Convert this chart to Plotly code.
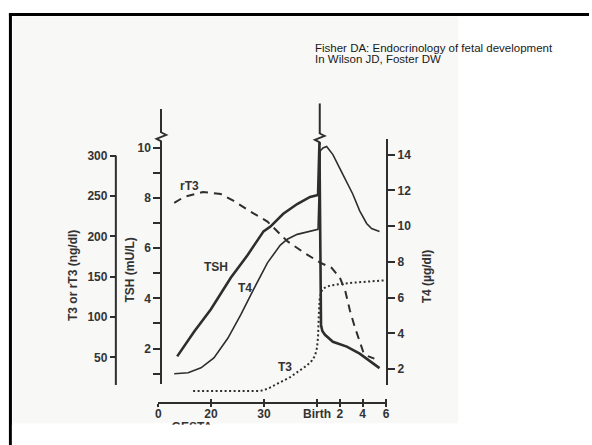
import plotly.graph_objects as go

W, H = 592, 445

# ---------------- data (x in axis units: gestational weeks; postnatal part compressed) ----
x_tick_vals = [10.1, 20, 30, 40, 44.3, 48.6, 53.0]
x_tick_text = ["0", "20", "30", "Birth", "2", "4", "6"]

tsh_x = [13.64, 16.82, 20.0, 23.74, 26.92, 29.91, 31.21, 33.64, 36.26, 38.69, 40.19,
         40.45, 40.75, 41.0, 41.5, 42.99, 45.61, 48.04, 51.78]
tsh_y = [1.69, 2.67, 3.57, 4.82, 5.73, 6.67, 6.86, 7.37, 7.76, 8.04, 8.12,
         10.2, 2.94, 2.7, 2.55, 2.27, 2.08, 1.80, 1.22]

t4_x = [13.08, 15.70, 18.13, 20.56, 23.18, 25.61, 28.04, 30.65, 33.08, 34.39, 36.26, 38.69, 40.19,
        40.6, 41.12, 41.81, 42.99, 44.86, 46.73, 48.04, 49.35, 50.28, 51.78]
t4_y = [1.75, 1.80, 2.08, 2.63, 3.73, 5.04, 6.47, 7.95, 8.94, 9.27, 9.54, 9.71, 9.82,
        14.2, 14.37, 14.46, 14.0, 12.9, 11.8, 10.86, 10.15, 9.87, 9.70]

rt3_x = [13.08, 14.95, 18.50, 21.87, 24.30, 27.48, 30.65, 34.39, 37.38, 40.56, 42.75,
         44.30, 45.3, 46.2, 47.1, 48.0, 48.7, 49.6, 50.8]
rt3_y = [241.5, 248.8, 254.9, 252.4, 243.9, 230.5, 218.3, 194.0, 180.5, 167.5, 160.9,
         148.8, 133.0, 108.0, 88.0, 69.0, 57.0, 51.5, 48.5]

t3_x = [16.64, 29.35, 30.65, 31.78, 33.64, 34.95, 36.82, 38.13, 39.07, 39.63, 40.0, 40.19,
        40.32, 40.47, 40.75, 41.12, 42.43, 44.30, 47.10, 49.91, 53.08]
t3_y = [8.5, 8.5, 11.0, 14.6, 20.7, 25.6, 34.2, 40.2, 46.3, 52.4, 62.2, 75.6,
        100.0, 120.7, 130.5, 135.4, 139.0, 140.9, 142.7, 143.9, 145.7]

tsh_ticks = [2, 4, 6, 8, 10]
tsh_minor = [1, 3, 5, 7, 9]
t3_ticks = [50, 100, 150, 200, 250, 300]
t4_ticks = [2, 4, 6, 8, 10, 12, 14]

# ---------------- helpers (layout positions in pixels) ----------------
def PX(x):
    return x / W

def PY(y):
    return 1 - y / H

INK = "#2e2e2e"
BG = "#f8f8f6"
FONT = "Liberation Sans, Arial, sans-serif"
tickfont = dict(family=FONT, size=12, color="#333333", weight="bold")

fig = go.Figure()
fig.add_trace(go.Scatter(x=rt3_x, y=rt3_y, xaxis="x", yaxis="y2", mode="lines",
                         line=dict(color=INK, width=2, dash="8px,6px"), name="rT3"))
fig.add_trace(go.Scatter(x=t3_x, y=t3_y, xaxis="x", yaxis="y2", mode="lines",
                         line=dict(color=INK, width=2, dash="2px,2.5px"), name="T3"))
fig.add_trace(go.Scatter(x=t4_x, y=t4_y, xaxis="x", yaxis="y3", mode="lines",
                         line=dict(color=INK, width=1.6), name="T4"))
fig.add_trace(go.Scatter(x=tsh_x, y=tsh_y, xaxis="x", yaxis="y", mode="lines",
                         line=dict(color=INK, width=2.6), name="TSH"))
# empty traces so that the overlay axes are drawn
fig.add_trace(go.Scatter(x=[], y=[], xaxis="x2", yaxis="y", showlegend=False))
fig.add_trace(go.Scatter(x=[], y=[], xaxis="x3", yaxis="y", showlegend=False))

xr = [10.1, 53.2]
common_ax = dict(showgrid=False, zeroline=False, tickcolor=INK, tickwidth=1.6, linecolor=INK)

fig.update_layout(
    width=W, height=H, margin=dict(l=0, r=0, t=0, b=0),
    paper_bgcolor="white", plot_bgcolor="rgba(0,0,0,0)", showlegend=False,
    xaxis=dict(domain=[PX(157), PX(388)], range=xr, anchor="free", position=PY(402),
               showline=True, linewidth=2, ticks="inside", ticklen=3,
               tickvals=x_tick_vals, ticktext=x_tick_text, tickfont=tickfont, **common_ax),
    xaxis2=dict(overlaying="x", range=xr, anchor="free", position=PY(402), showline=False,
                ticks="outside", ticklen=3, tickvals=x_tick_vals, showticklabels=False, **common_ax),
    xaxis3=dict(overlaying="x", range=xr, anchor="free", position=PY(418), showline=False,
                ticks="", tickvals=[16.4], ticktext=["GESTA"], tickfont=tickfont,
                showgrid=False, zeroline=False),
    yaxis=dict(domain=[PY(383), PY(104)], range=[0.59, 11.53], anchor="free", position=PX(160),
               showline=True, linewidth=2, ticks="outside", ticklen=7,
               tickvals=tsh_ticks, tickfont=tickfont,
               minor=dict(tickvals=tsh_minor, ticks="outside", ticklen=7, tickcolor=INK, tickwidth=1.6),
               **common_ax),
    yaxis2=dict(domain=[PY(393), PY(151)], range=[4.9, 300], anchor="free", position=PX(114),
                showline=False, ticks="outside", ticklen=6, tickvals=t3_ticks, tickfont=tickfont,
                **common_ax),
    yaxis3=dict(domain=[PY(384), PY(134)], range=[1.12, 14.88], anchor="free", position=PX(388),
                side="right", showline=True, linewidth=2, ticks="outside", ticklen=7,
                tickvals=t4_ticks, tickfont=tickfont, **common_ax),
)

shapes = []
# scanned page background and slide border
shapes.append(dict(type="rect", xref="paper", yref="paper", x0=PX(10), x1=PX(460), y0=PY(423), y1=PY(10),
                   fillcolor=BG, line=dict(width=0), layer="below"))
shapes.append(dict(type="line", xref="paper", yref="paper", x0=PX(6), x1=PX(592), y0=PY(7.5), y1=PY(7.5),
                   line=dict(color="black", width=3)))
shapes.append(dict(type="line", xref="paper", yref="paper", x0=PX(7.5), x1=PX(7.5), y0=PY(6), y1=PY(445),
                   line=dict(color="black", width=3)))
# T3 / rT3 axis line
shapes.append(dict(type="line", xref="paper", yref="paper", x0=PX(114), x1=PX(114), y0=PY(151), y1=PY(384),
                   line=dict(color=INK, width=2)))
# birth line above the surge
shapes.append(dict(type="line", xref="paper", yref="paper", x0=PX(320), x1=PX(320), y0=PY(98), y1=PY(140),
                   line=dict(color=INK, width=2)))

def zigzag(xc, yc):
    out = [dict(type="line", xref="paper", yref="paper", x0=PX(xc), x1=PX(xc), y0=PY(yc - 4), y1=PY(yc + 4),
                line=dict(color=BG, width=4))]
    pts = [(xc, yc - 4.5), (xc + 5, yc - 2), (xc - 5, yc + 2), (xc, yc + 4.5)]
    path = "M " + " L ".join(f"{PX(a):.5f},{PY(b):.5f}" for a, b in pts)
    out.append(dict(type="path", xref="paper", yref="paper", path=path, line=dict(color=INK, width=1.8)))
    return out

shapes += zigzag(160, 132)
shapes += zigzag(320, 133)
# lower edge of the scanned page
shapes.append(dict(type="rect", xref="paper", yref="paper", x0=PX(9), x1=PX(592), y0=PY(445), y1=PY(424.5),
                   fillcolor="white", line=dict(width=0), layer="above"))
fig.update_layout(shapes=shapes)

ann_font = dict(family=FONT, size=12, color="#333333", weight="bold")
anns = [
    dict(text="T3 or rT3 (ng/dl)", x=PX(70), y=PY(273), textangle=-90),
    dict(text="TSH (mU/L)", x=PX(128), y=PY(267), textangle=-90),
    dict(text="T4 (µg/dl)", x=PX(428), y=PY(274), textangle=-90),
    dict(text="rT3", x=PX(188), y=PY(182)),
    dict(text="TSH", x=PX(215), y=PY(264)),
    dict(text="T4", x=PX(244), y=PY(285)),
    dict(text="T3", x=PX(285), y=PY(366)),
]
for a in anns:
    fig.add_annotation(xref="paper", yref="paper", showarrow=False, xanchor="center", yanchor="middle",
                       font=ann_font, **a)

src_font = dict(family=FONT, size=11.5, color="#1a1a1a")
fig.add_annotation(text="Fisher DA: Endocrinology of fetal development", xref="paper", yref="paper",
                   x=PX(313), y=PY(42), xanchor="left", yanchor="middle", showarrow=False, font=src_font)
fig.add_annotation(text="In Wilson JD, Foster DW", xref="paper", yref="paper",
                   x=PX(313), y=PY(53), xanchor="left", yanchor="middle", showarrow=False, font=src_font)

fig.write_html("out.html", config={"displayModeBar": False},
               post_script="document.body.style.margin='0px';document.body.style.overflow='hidden';")
